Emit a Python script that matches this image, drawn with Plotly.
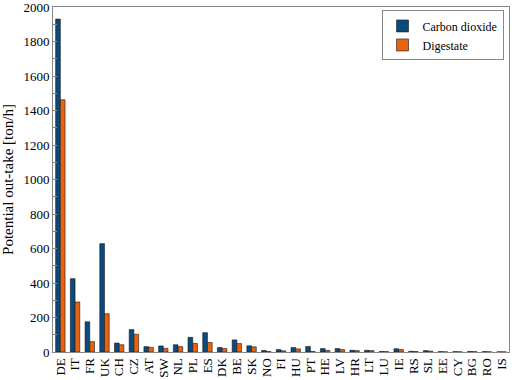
import plotly.graph_objects as go

countries = ["DE","IT","FR","UK","CH","CZ","AT","SW","NL","PL","ES","DK","BE","SK","NO","FI",
             "HU","PT","HE","LV","HR","LT","LU","IE","RS","SL","EE","CY","BG","RO","IS"]
carbon_dioxide = [1930, 425, 175, 628, 52, 130, 31, 35, 42, 85, 112, 26, 70, 36, 9, 14,
                  26, 32, 20, 20, 10, 10, 3, 19, 4, 8, 2, 2, 3, 2, 1]
digestate = [1462, 290, 60, 222, 42, 103, 27, 21, 31, 50, 55, 20, 49, 30, 3, 7,
             18, 3, 9, 14, 8, 8, 2, 14, 3, 5, 1, 1, 2, 1, 0.5]

FONT = "Times New Roman, Liberation Serif, serif"
fig = go.Figure()
fig.add_trace(go.Bar(x=countries, y=carbon_dioxide, name="Carbon dioxide",
                     marker=dict(color="#0B4A7D", line=dict(color="#1a1a1a", width=0.6))))
fig.add_trace(go.Bar(x=countries, y=digestate, name="Digestate",
                     marker=dict(color="#E8620F", line=dict(color="#1a1a1a", width=0.6))))

fig.update_layout(
    width=512, height=380,
    margin=dict(l=53, r=3, t=7, b=28),
    paper_bgcolor="white", plot_bgcolor="white",
    font=dict(family=FONT, color="black", size=13),
    barmode="group", bargap=0.36, bargroupgap=0,
    showlegend=True,
    legend=dict(x=0.988, y=0.99, xanchor="right", yanchor="top",
                bordercolor="#888888", borderwidth=1, bgcolor="white",
                font=dict(family=FONT, size=12), tracegroupgap=0,
                itemwidth=30),
)
fig.update_xaxes(showline=True, linecolor="#888888", linewidth=1, mirror=True,
                 tickangle=-90, ticks="", tickmode="linear", dtick=1,
                 tickfont=dict(family=FONT, size=13),
                 ticklabelstandoff=0, automargin=False)
fig.update_yaxes(range=[0, 2000], dtick=200, showgrid=False, zeroline=False,
                 showline=True, linecolor="#888888", linewidth=1, mirror=True,
                 ticks="inside", ticklen=4, tickcolor="#888888",
                 minor=dict(dtick=100, ticks="inside", ticklen=4, tickcolor="#888888"),
                 tickfont=dict(family=FONT, size=13), ticklabeloverflow="allow",
                 title=dict(text="Potential out-take [ton/h]", font=dict(family=FONT, size=15), standoff=6),
                 automargin=False)

fig.write_html("out.html", config={"displayModeBar": False},
               post_script="document.body.style.margin='0';")
